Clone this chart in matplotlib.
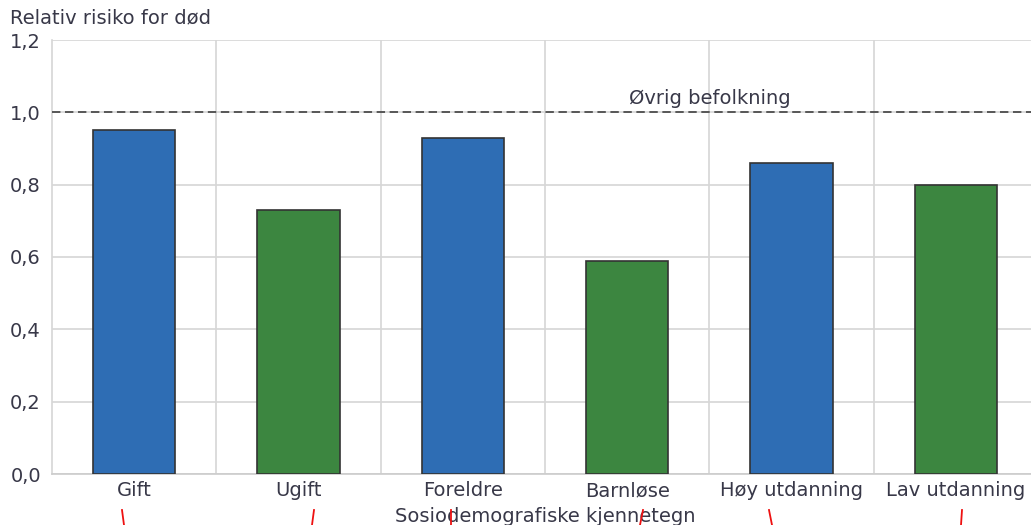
import matplotlib
matplotlib.use("Agg")
import matplotlib.pyplot as plt
from matplotlib.lines import Line2D

categories = ["Gift", "Ugift", "Foreldre", "Barnløse", "Høy utdanning", "Lav utdanning"]
relative_risk = [0.95, 0.73, 0.93, 0.59, 0.86, 0.80]
bar_colors = ["#2e6db4", "#3c8640", "#2e6db4", "#3c8640", "#2e6db4", "#3c8640"]
reference_level = 1.0
reference_label = "Øvrig befolkning"
y_ticks = [0.0, 0.2, 0.4, 0.6, 0.8, 1.0, 1.2]

plt.rcParams["font.family"] = ["DejaVu Sans"]
text_color = "#383848"
grid_color = "#d6d6d6"
fs = 14

fig = plt.figure(figsize=(10.31, 5.25), dpi=100)
ax = fig.add_axes([52 / 1031, 1 - 474 / 525, 986 / 1031, 434 / 525])

x = list(range(len(categories)))
ax.bar(x, relative_risk, width=0.5, color=bar_colors, edgecolor="#333333",
       linewidth=1.2, zorder=3)

ax.set_xlim(-0.5, len(categories) - 0.5)
ax.set_ylim(0, 1.2)
ax.set_yticks(y_ticks)
ax.set_yticklabels([f"{v:.1f}".replace(".", ",") for v in y_ticks])
ax.set_xticks(x)
ax.set_xticklabels(categories)
ax.set_xticks([i + 0.5 for i in x[:-1]], minor=True)

ax.grid(axis="y", color=grid_color, linewidth=1.2, zorder=0)
ax.grid(axis="x", which="minor", color=grid_color, linewidth=1.2, zorder=0)
ax.grid(axis="x", which="major", visible=False)

for side in ["top", "right"]:
    ax.spines[side].set_visible(False)
ax.spines["left"].set_color(grid_color)
ax.spines["left"].set_linewidth(1.2)
ax.spines["bottom"].set_color("#cccccc")
ax.spines["bottom"].set_linewidth(1.2)

ax.tick_params(axis="both", which="both", length=0, labelsize=fs,
               labelcolor=text_color)
ax.tick_params(axis="x", pad=5)
ax.tick_params(axis="y", pad=8)

ax.axhline(reference_level, color="#333333", linestyle=(0, (5.5, 3)),
           linewidth=1.1, zorder=4)
ax.text(3.5, reference_level + 0.012, reference_label, ha="center", va="bottom",
        fontsize=fs, color=text_color, zorder=5)

ax.set_xlabel("Sosiodemografiske kjennetegn", fontsize=fs, color=text_color,
              labelpad=5)
fig.text(10 / 1031, 1 - 18 / 525, "Relativ risiko for død", fontsize=fs,
         color=text_color, va="center", ha="left")

# small red pen strokes along the bottom edge
strokes = [((122, 510), (124, 525)), ((314, 510), (312, 525)),
           ((451, 510), (451, 525)), ((643, 510), (640, 525)),
           ((769, 510), (772, 525)), ((962, 510), (961, 525))]
for (x0, y0), (x1, y1) in strokes:
    fig.add_artist(Line2D([x0 / 1031, x1 / 1031], [1 - y0 / 525, 1 - y1 / 525],
                          transform=fig.transFigure, color="#ee1111",
                          linewidth=1.3, zorder=10))

fig.savefig("out.png", dpi=100)
